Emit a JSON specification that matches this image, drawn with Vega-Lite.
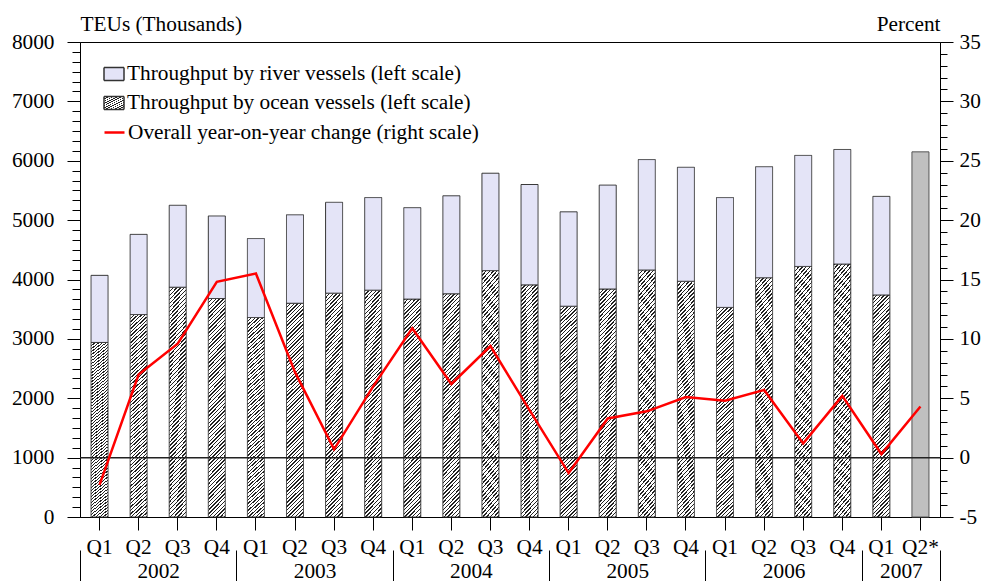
{
"$schema": "https://vega.github.io/schema/vega-lite/v6.json",
"width": 860, "height": 475,
"autosize": {"type": "none"},
"padding": {"left": 80, "top": 42, "right": 48, "bottom": 64},
"background": "white",
"datasets": {
"throughput": [
{"period":"2002 Q1","ocean":2940,"total":4070},
{"period":"2002 Q2","ocean":3410,"total":4760},
{"period":"2002 Q3","ocean":3870,"total":5250},
{"period":"2002 Q4","ocean":3680,"total":5070},
{"period":"2003 Q1","ocean":3360,"total":4690},
{"period":"2003 Q2","ocean":3600,"total":5090},
{"period":"2003 Q3","ocean":3770,"total":5300},
{"period":"2003 Q4","ocean":3820,"total":5380},
{"period":"2004 Q1","ocean":3670,"total":5210},
{"period":"2004 Q2","ocean":3760,"total":5410},
{"period":"2004 Q3","ocean":4150,"total":5790},
{"period":"2004 Q4","ocean":3910,"total":5600},
{"period":"2005 Q1","ocean":3550,"total":5140},
{"period":"2005 Q2","ocean":3840,"total":5590},
{"period":"2005 Q3","ocean":4160,"total":6020},
{"period":"2005 Q4","ocean":3970,"total":5890},
{"period":"2006 Q1","ocean":3530,"total":5380},
{"period":"2006 Q2","ocean":4030,"total":5900},
{"period":"2006 Q3","ocean":4220,"total":6090},
{"period":"2006 Q4","ocean":4260,"total":6190},
{"period":"2007 Q1","ocean":3740,"total":5400}
],
"estimate": [{"period":"2007 Q2","teu":6150}],
"change": [
{"period":"2002 Q1","pct":-2.3},
{"period":"2002 Q2","pct":7.0},
{"period":"2002 Q3","pct":9.6},
{"period":"2002 Q4","pct":14.8},
{"period":"2003 Q1","pct":15.5},
{"period":"2003 Q2","pct":7.2},
{"period":"2003 Q3","pct":0.7},
{"period":"2003 Q4","pct":6.0},
{"period":"2004 Q1","pct":10.9},
{"period":"2004 Q2","pct":6.2},
{"period":"2004 Q3","pct":9.4},
{"period":"2004 Q4","pct":4.0},
{"period":"2005 Q1","pct":-1.3},
{"period":"2005 Q2","pct":3.3},
{"period":"2005 Q3","pct":3.9},
{"period":"2005 Q4","pct":5.1},
{"period":"2006 Q1","pct":4.8},
{"period":"2006 Q2","pct":5.7},
{"period":"2006 Q3","pct":1.2},
{"period":"2006 Q4","pct":5.2},
{"period":"2007 Q1","pct":0.3},
{"period":"2007 Q2","pct":4.3}
],
"years": [
{"year":"2002","start":0},{"year":"2003","start":4},{"year":"2004","start":8},
{"year":"2005","start":12},{"year":"2006","start":16},{"year":"2007","start":20}
]
},
"layer": [
{
"layer": [
{"layer": [
{
"data": {"name": "throughput"},
"mark": {"type": "bar", "stroke": "#333", "strokeWidth": 1, "fill": {"gradient": "linear", "x1": 0, "y1": 0, "x2": 0.085, "y2": 1.072, "stops": [
{"offset":0,"color":"#222"},{"offset":0.006,"color":"#222"},{"offset":0.006,"color":"#fff"},{"offset":0.016,"color":"#fff"},
{"offset":0.016,"color":"#222"},{"offset":0.022,"color":"#222"},{"offset":0.022,"color":"#fff"},{"offset":0.032,"color":"#fff"},
{"offset":0.032,"color":"#222"},{"offset":0.038,"color":"#222"},{"offset":0.038,"color":"#fff"},{"offset":0.048,"color":"#fff"},
{"offset":0.048,"color":"#222"},{"offset":0.054,"color":"#222"},{"offset":0.054,"color":"#fff"},{"offset":0.064,"color":"#fff"},
{"offset":0.064,"color":"#222"},{"offset":0.07,"color":"#222"},{"offset":0.07,"color":"#fff"},{"offset":0.08,"color":"#fff"},
{"offset":0.08,"color":"#222"},{"offset":0.086,"color":"#222"},{"offset":0.086,"color":"#fff"},{"offset":0.096,"color":"#fff"},
{"offset":0.096,"color":"#222"},{"offset":0.102,"color":"#222"},{"offset":0.102,"color":"#fff"},{"offset":0.112,"color":"#fff"},
{"offset":0.112,"color":"#222"},{"offset":0.118,"color":"#222"},{"offset":0.118,"color":"#fff"},{"offset":0.128,"color":"#fff"},
{"offset":0.128,"color":"#222"},{"offset":0.134,"color":"#222"},{"offset":0.134,"color":"#fff"},{"offset":0.144,"color":"#fff"},
{"offset":0.144,"color":"#222"},{"offset":0.15,"color":"#222"},{"offset":0.15,"color":"#fff"},{"offset":0.16,"color":"#fff"},
{"offset":0.16,"color":"#222"},{"offset":0.166,"color":"#222"},{"offset":0.166,"color":"#fff"},{"offset":0.176,"color":"#fff"},
{"offset":0.176,"color":"#222"},{"offset":0.182,"color":"#222"},{"offset":0.182,"color":"#fff"},{"offset":0.192,"color":"#fff"},
{"offset":0.192,"color":"#222"},{"offset":0.198,"color":"#222"},{"offset":0.198,"color":"#fff"},{"offset":0.208,"color":"#fff"},
{"offset":0.208,"color":"#222"},{"offset":0.214,"color":"#222"},{"offset":0.214,"color":"#fff"},{"offset":0.224,"color":"#fff"},
{"offset":0.224,"color":"#222"},{"offset":0.23,"color":"#222"},{"offset":0.23,"color":"#fff"},{"offset":0.24,"color":"#fff"},
{"offset":0.24,"color":"#222"},{"offset":0.246,"color":"#222"},{"offset":0.246,"color":"#fff"},{"offset":0.256,"color":"#fff"},
{"offset":0.256,"color":"#222"},{"offset":0.262,"color":"#222"},{"offset":0.262,"color":"#fff"},{"offset":0.272,"color":"#fff"},
{"offset":0.272,"color":"#222"},{"offset":0.278,"color":"#222"},{"offset":0.278,"color":"#fff"},{"offset":0.288,"color":"#fff"},
{"offset":0.288,"color":"#222"},{"offset":0.294,"color":"#222"},{"offset":0.294,"color":"#fff"},{"offset":0.304,"color":"#fff"},
{"offset":0.304,"color":"#222"},{"offset":0.31,"color":"#222"},{"offset":0.31,"color":"#fff"},{"offset":0.32,"color":"#fff"},
{"offset":0.32,"color":"#222"},{"offset":0.326,"color":"#222"},{"offset":0.326,"color":"#fff"},{"offset":0.336,"color":"#fff"},
{"offset":0.336,"color":"#222"},{"offset":0.342,"color":"#222"},{"offset":0.342,"color":"#fff"},{"offset":0.352,"color":"#fff"},
{"offset":0.352,"color":"#222"},{"offset":0.358,"color":"#222"},{"offset":0.358,"color":"#fff"},{"offset":0.368,"color":"#fff"},
{"offset":0.368,"color":"#222"},{"offset":0.374,"color":"#222"},{"offset":0.374,"color":"#fff"},{"offset":0.384,"color":"#fff"},
{"offset":0.384,"color":"#222"},{"offset":0.39,"color":"#222"},{"offset":0.39,"color":"#fff"},{"offset":0.4,"color":"#fff"},
{"offset":0.4,"color":"#222"},{"offset":0.406,"color":"#222"},{"offset":0.406,"color":"#fff"},{"offset":0.416,"color":"#fff"},
{"offset":0.416,"color":"#222"},{"offset":0.422,"color":"#222"},{"offset":0.422,"color":"#fff"},{"offset":0.432,"color":"#fff"},
{"offset":0.432,"color":"#222"},{"offset":0.438,"color":"#222"},{"offset":0.438,"color":"#fff"},{"offset":0.448,"color":"#fff"},
{"offset":0.448,"color":"#222"},{"offset":0.454,"color":"#222"},{"offset":0.454,"color":"#fff"},{"offset":0.464,"color":"#fff"},
{"offset":0.464,"color":"#222"},{"offset":0.47,"color":"#222"},{"offset":0.47,"color":"#fff"},{"offset":0.48,"color":"#fff"},
{"offset":0.48,"color":"#222"},{"offset":0.486,"color":"#222"},{"offset":0.486,"color":"#fff"},{"offset":0.496,"color":"#fff"},
{"offset":0.496,"color":"#222"},{"offset":0.502,"color":"#222"},{"offset":0.502,"color":"#fff"},{"offset":0.512,"color":"#fff"},
{"offset":0.512,"color":"#222"},{"offset":0.518,"color":"#222"},{"offset":0.518,"color":"#fff"},{"offset":0.528,"color":"#fff"},
{"offset":0.528,"color":"#222"},{"offset":0.534,"color":"#222"},{"offset":0.534,"color":"#fff"},{"offset":0.544,"color":"#fff"},
{"offset":0.544,"color":"#222"},{"offset":0.55,"color":"#222"},{"offset":0.55,"color":"#fff"},{"offset":0.56,"color":"#fff"},
{"offset":0.56,"color":"#222"},{"offset":0.566,"color":"#222"},{"offset":0.566,"color":"#fff"},{"offset":0.576,"color":"#fff"},
{"offset":0.576,"color":"#222"},{"offset":0.582,"color":"#222"},{"offset":0.582,"color":"#fff"},{"offset":0.592,"color":"#fff"},
{"offset":0.592,"color":"#222"},{"offset":0.598,"color":"#222"},{"offset":0.598,"color":"#fff"},{"offset":0.608,"color":"#fff"},
{"offset":0.608,"color":"#222"},{"offset":0.614,"color":"#222"},{"offset":0.614,"color":"#fff"},{"offset":0.624,"color":"#fff"},
{"offset":0.624,"color":"#222"},{"offset":0.63,"color":"#222"},{"offset":0.63,"color":"#fff"},{"offset":0.64,"color":"#fff"},
{"offset":0.64,"color":"#222"},{"offset":0.646,"color":"#222"},{"offset":0.646,"color":"#fff"},{"offset":0.656,"color":"#fff"},
{"offset":0.656,"color":"#222"},{"offset":0.662,"color":"#222"},{"offset":0.662,"color":"#fff"},{"offset":0.672,"color":"#fff"},
{"offset":0.672,"color":"#222"},{"offset":0.678,"color":"#222"},{"offset":0.678,"color":"#fff"},{"offset":0.688,"color":"#fff"},
{"offset":0.688,"color":"#222"},{"offset":0.694,"color":"#222"},{"offset":0.694,"color":"#fff"},{"offset":0.704,"color":"#fff"},
{"offset":0.704,"color":"#222"},{"offset":0.71,"color":"#222"},{"offset":0.71,"color":"#fff"},{"offset":0.72,"color":"#fff"},
{"offset":0.72,"color":"#222"},{"offset":0.726,"color":"#222"},{"offset":0.726,"color":"#fff"},{"offset":0.736,"color":"#fff"},
{"offset":0.736,"color":"#222"},{"offset":0.742,"color":"#222"},{"offset":0.742,"color":"#fff"},{"offset":0.752,"color":"#fff"},
{"offset":0.752,"color":"#222"},{"offset":0.758,"color":"#222"},{"offset":0.758,"color":"#fff"},{"offset":0.768,"color":"#fff"},
{"offset":0.768,"color":"#222"},{"offset":0.774,"color":"#222"},{"offset":0.774,"color":"#fff"},{"offset":0.784,"color":"#fff"},
{"offset":0.784,"color":"#222"},{"offset":0.79,"color":"#222"},{"offset":0.79,"color":"#fff"},{"offset":0.8,"color":"#fff"},
{"offset":0.8,"color":"#222"},{"offset":0.806,"color":"#222"},{"offset":0.806,"color":"#fff"},{"offset":0.816,"color":"#fff"},
{"offset":0.816,"color":"#222"},{"offset":0.822,"color":"#222"},{"offset":0.822,"color":"#fff"},{"offset":0.832,"color":"#fff"},
{"offset":0.832,"color":"#222"},{"offset":0.838,"color":"#222"},{"offset":0.838,"color":"#fff"},{"offset":0.848,"color":"#fff"},
{"offset":0.848,"color":"#222"},{"offset":0.854,"color":"#222"},{"offset":0.854,"color":"#fff"},{"offset":0.864,"color":"#fff"},
{"offset":0.864,"color":"#222"},{"offset":0.87,"color":"#222"},{"offset":0.87,"color":"#fff"},{"offset":0.88,"color":"#fff"},
{"offset":0.88,"color":"#222"},{"offset":0.886,"color":"#222"},{"offset":0.886,"color":"#fff"},{"offset":0.896,"color":"#fff"},
{"offset":0.896,"color":"#222"},{"offset":0.902,"color":"#222"},{"offset":0.902,"color":"#fff"},{"offset":0.912,"color":"#fff"},
{"offset":0.912,"color":"#222"},{"offset":0.918,"color":"#222"},{"offset":0.918,"color":"#fff"},{"offset":0.928,"color":"#fff"},
{"offset":0.928,"color":"#222"},{"offset":0.934,"color":"#222"},{"offset":0.934,"color":"#fff"},{"offset":0.944,"color":"#fff"},
{"offset":0.944,"color":"#222"},{"offset":0.95,"color":"#222"},{"offset":0.95,"color":"#fff"},{"offset":0.96,"color":"#fff"},
{"offset":0.96,"color":"#222"},{"offset":0.966,"color":"#222"},{"offset":0.966,"color":"#fff"},{"offset":0.976,"color":"#fff"},
{"offset":0.976,"color":"#222"},{"offset":0.982,"color":"#222"},{"offset":0.982,"color":"#fff"},{"offset":0.992,"color":"#fff"},
{"offset":0.992,"color":"#222"},{"offset":0.998,"color":"#222"},{"offset":0.998,"color":"#fff"},{"offset":1,"color":"#fff"}
]}},
"encoding": {
"x": {"field": "period", "type": "nominal", "scale": {"paddingInner": 0.565, "paddingOuter": 0.2825},
"axis": {"title": null, "labelAngle": 0, "bandPosition": 0.5, "tickSize": 13, "labelPadding": 6, "labelOverlap": false, "labelExpr": "datum.value === '2007 Q2' ? 'Q2*' : substring(datum.value, 5)"}},
"y": {"field": "ocean", "type": "quantitative", "scale": {"domain": [0, 8000], "nice": false},
"axis": {"orient": "left", "title": "TEUs (Thousands)", "titleAngle": 0, "titleAlign": "left", "titleBaseline": "alphabetic", "titleX": 0, "titleY": -12,
"values": [0,1000,2000,3000,4000,5000,6000,7000,8000],
"labelExpr": "'' + datum.value", "labelOverlap": false,
"tickSize": 13, "labelPadding": 13}},
"strokeDash": {"datum": "Throughput by ocean vessels (left scale)", "type": "nominal",
"scale": {"range": [[1, 0]]},
"legend": {"title": null, "orient": "none", "legendX": 23, "legendY": 50,
"symbolType": "M-1,-0.65L1,-0.65L1,0.65L-1,0.65Z", "symbolSize": 400, "labelOffset": 2,
"encode": {"symbols": {
"fill": {"value": {"gradient": "linear", "x1": 0, "y1": 0, "x2": 1.16, "y2": 0.754, "stops": [
{"offset":0,"color":"#222"},{"offset":0.055,"color":"#222"},{"offset":0.055,"color":"#fff"},{"offset":0.14,"color":"#fff"},
{"offset":0.14,"color":"#222"},{"offset":0.195,"color":"#222"},{"offset":0.195,"color":"#fff"},{"offset":0.28,"color":"#fff"},
{"offset":0.28,"color":"#222"},{"offset":0.335,"color":"#222"},{"offset":0.335,"color":"#fff"},{"offset":0.42,"color":"#fff"},
{"offset":0.42,"color":"#222"},{"offset":0.475,"color":"#222"},{"offset":0.475,"color":"#fff"},{"offset":0.56,"color":"#fff"},
{"offset":0.56,"color":"#222"},{"offset":0.615,"color":"#222"},{"offset":0.615,"color":"#fff"},{"offset":0.7,"color":"#fff"},
{"offset":0.7,"color":"#222"},{"offset":0.755,"color":"#222"},{"offset":0.755,"color":"#fff"},{"offset":0.84,"color":"#fff"},
{"offset":0.84,"color":"#222"},{"offset":0.895,"color":"#222"},{"offset":0.895,"color":"#fff"},{"offset":0.98,"color":"#fff"},
{"offset":0.98,"color":"#222"},{"offset":1,"color":"#222"}
]}},
"stroke": {"value": "#333"}, "strokeWidth": {"value": 1}, "opacity": {"value": 1}}}}
}
}
},
{
"data": {"name": "throughput"},
"mark": {"type": "bar", "stroke": "#333", "strokeWidth": 1, "fill": "#E4E4F7"},
"encoding": {
"x": {"field": "period", "type": "nominal"},
"y": {"field": "ocean", "type": "quantitative"},
"y2": {"field": "total"},
"strokeDash": {"datum": "Throughput by river vessels (left scale)", "type": "nominal",
"scale": {"range": [[1, 0]]},
"legend": {"title": null, "orient": "none", "legendX": 23, "legendY": 21,
"symbolType": "M-1,-0.65L1,-0.65L1,0.65L-1,0.65Z", "symbolSize": 400, "labelOffset": 2,
"encode": {"symbols": {"fill": {"value": "#E4E4F7"}, "stroke": {"value": "#333"}, "strokeWidth": {"value": 1}, "opacity": {"value": 1}}}}
}
}
},
{
"data": {"name": "estimate"},
"mark": {"type": "bar", "fill": "#C0C0C0", "stroke": "#555", "strokeWidth": 1},
"encoding": {
"x": {"field": "period", "type": "nominal"},
"y": {"field": "teu", "type": "quantitative"}
}
}
], "resolve": {"scale": {"strokeDash": "independent"}}},
{"layer": [
{
"data": {"values": [{"pct": 0}]},
"mark": {"type": "rule", "color": "#222", "strokeWidth": 1.5},
"encoding": {"y": {"field": "pct", "type": "quantitative", "scale": {"domain": [-5, 35], "nice": false}}}
},
{
"data": {"name": "change"},
"mark": {"type": "line", "strokeWidth": 2.5},
"encoding": {
"x": {"field": "period", "type": "nominal"},
"y": {"field": "pct", "type": "quantitative", "scale": {"domain": [-5, 35], "nice": false},
"axis": {"orient": "right", "title": "Percent", "titleAngle": 0, "titleAlign": "right", "titleBaseline": "alphabetic", "titleX": 0, "titleY": -12,
"values": [-5,0,5,10,15,20,25,30,35],
"labelExpr": "'' + datum.value", "labelOverlap": false,
"tickSize": 13, "labelPadding": 6}},
"stroke": {"datum": "Overall year-on-year change (right scale)", "type": "nominal", "scale": {"range": ["#FF0000"]},
"legend": {"title": null, "orient": "none", "legendX": 23, "legendY": 79, "symbolType": "stroke", "symbolSize": 400, "symbolStrokeWidth": 2.5, "labelOffset": 2}}
}
}
]},
{
"data": {"values": [{"v": 0}]},
"mark": {"type": "rule", "opacity": 0},
"encoding": {"y": {"field": "v", "type": "quantitative", "scale": {"domain": [0, 8000], "nice": false},
"axis": {"orient": "left", "title": null, "domain": false, "labels": false, "tickSize": 8,
"values": [166.667,333.333,500,666.667,833.333,1166.667,1333.333,1500,1666.667,1833.333,2166.667,2333.333,2500,2666.667,2833.333,3166.667,3333.333,3500,3666.667,3833.333,4166.667,4333.333,4500,4666.667,4833.333,5166.667,5333.333,5500,5666.667,5833.333,6166.667,6333.333,6500,6666.667,6833.333,7166.667,7333.333,7500,7666.667,7833.333]}}}
},
{
"data": {"values": [{"v": 0}]},
"mark": {"type": "rule", "opacity": 0},
"encoding": {"y": {"field": "v", "type": "quantitative", "scale": {"domain": [-5, 35], "nice": false},
"axis": {"orient": "right", "title": null, "domain": false, "labels": false, "tickSize": 7,
"values": [-4,-3,-2,-1,1,2,3,4,6,7,8,9,11,12,13,14,16,17,18,19,21,22,23,24,26,27,28,29,31,32,33,34]}}}
}
],
"resolve": {"scale": {"y": "independent", "strokeDash": "independent"}}
},
{
"data": {"name": "years"},
"mark": {"type": "rule", "opacity": 0},
"encoding": {
"x": {"field": "start", "type": "quantitative", "scale": {"domain": [0, 22], "nice": false, "zero": false},
"axis": {"orient": "bottom", "offset": 33, "title": null, "domain": false,
"values": [0,2,4,6,8,10,12,14,16,18,20,21,22], "tickSize": 31,
"tickOpacity": {"condition": {"test": "indexof([0,4,8,12,16,20,22], datum.value) >= 0", "value": 1}, "value": 0},
"labelBaseline": "alphabetic", "labelPadding": -4, "labelFlush": false, "labelOverlap": false,
"labelExpr": "datum.value === 2 ? '2002' : datum.value === 6 ? '2003' : datum.value === 10 ? '2004' : datum.value === 14 ? '2005' : datum.value === 18 ? '2006' : datum.value === 21 ? '2007' : ''"}}
}
}
],
"resolve": {"scale": {"x": "independent", "y": "independent", "strokeDash": "independent"}},
"config": {
"view": {"stroke": "#000", "strokeWidth": 1},
"axis": {"grid": false, "labelFont": "Liberation Serif", "labelFontSize": 21.3, "labelColor": "#000", "titleFont": "Liberation Serif", "titleFontSize": 21.3, "titleFontWeight": "normal", "titleColor": "#000", "tickColor": "#000", "domainColor": "#000", "tickWidth": 1, "domainWidth": 1, "labelOverlap": false},
"legend": {"labelFont": "Liberation Serif", "labelFontSize": 21.3, "labelColor": "#000", "labelLimit": 0, "padding": 0}
}
}
